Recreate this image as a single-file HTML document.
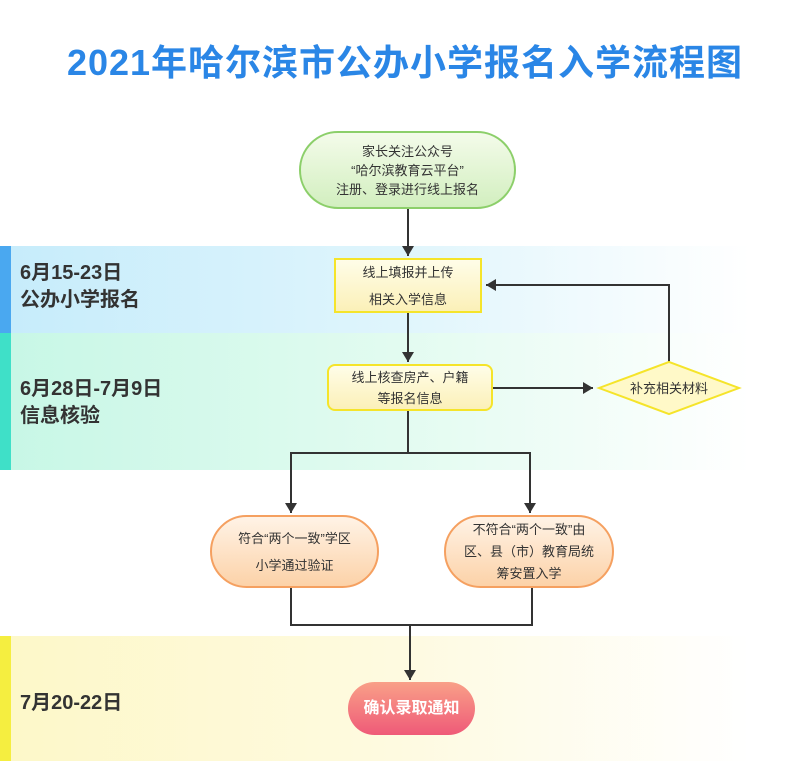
<!DOCTYPE html>
<html><head><meta charset="utf-8"><style>
body{margin:0;width:790px;height:761px;position:relative;background:#fff;font-family:"Liberation Sans","Noto Sans CJK SC",sans-serif;overflow:hidden}
.band{position:absolute;left:0;width:790px}
.bar{position:absolute;left:0;top:0;bottom:0;width:11px}
.lab{position:absolute;left:20px;font-weight:bold;font-size:20px;color:#333;line-height:27px}
.n{position:absolute;display:flex;align-items:center;justify-content:center;text-align:center;font-size:13px;color:#333;line-height:19px;box-sizing:border-box}
</style></head><body>
<div style="position:absolute;top:34px;left:0;width:810px;text-align:center;font-size:36px;font-weight:bold;color:#2a86e6;letter-spacing:1px">2021年哈尔滨市公办小学报名入学流程图</div>
<div class="band" style="top:246px;height:87px;background:linear-gradient(90deg,#c6ecfb,#dff5fc 50%,#fff 95%)"><div class="bar" style="background:#4aa8f0"></div></div>
<div class="band" style="top:333px;height:137px;background:linear-gradient(90deg,#c7f7e6,#e2fbf0 50%,#fff 95%)"><div class="bar" style="background:#3fe0c8"></div></div>
<div class="band" style="top:636px;height:125px;background:linear-gradient(90deg,#fdf8c8,#fefae0 50%,#fff 95%)"><div class="bar" style="background:#f5ee40"></div></div>
<div class="lab" style="top:260px">6月15-23日<br>公办小学报名</div>
<div class="lab" style="top:376px">6月28日-7月9日<br>信息核验</div>
<div class="lab" style="top:690px">7月20-22日</div>
<svg width="790" height="761" style="position:absolute;left:0;top:0">
<defs><marker id="a" markerWidth="10" markerHeight="12" refX="10" refY="6" orient="auto" markerUnits="userSpaceOnUse"><path d="M0,0L10,6L0,12z" fill="#333"/></marker></defs>
<g stroke="#333" stroke-width="2" fill="none">
<path d="M408 209V256" marker-end="url(#a)"/>
<path d="M408 313V362" marker-end="url(#a)"/>
<path d="M493 388H593" marker-end="url(#a)"/>
<path d="M669 362V285H486" marker-end="url(#a)"/>
<path d="M408 411V453H291V513" marker-end="url(#a)"/>
<path d="M408 453H530V513" marker-end="url(#a)"/>
<path d="M291 588V625H532V588"/>
<path d="M410 625V680" marker-end="url(#a)"/>
</g>
<polygon points="599,388 669,362 739,388 669,414" fill="#fff9c8" stroke="#f5e42a" stroke-width="2"/>
<text x="669" y="393" font-size="13" text-anchor="middle" fill="#333" font-family="Liberation Sans,Noto Sans CJK SC,sans-serif">补充相关材料</text>
</svg>
<div class="n" style="left:299px;top:131px;width:217px;height:78px;border:2px solid #8ccf6a;border-radius:40px;background:linear-gradient(#f4fbea,#d2efbf)">家长关注公众号<br>“哈尔滨教育云平台”<br>注册、登录进行线上报名</div>
<div class="n" style="left:334px;top:258px;width:148px;height:55px;border:2px solid #f5e42a;background:linear-gradient(#fffde8,#fbf0b8);line-height:27px">线上填报并上传<br>相关入学信息</div>
<div class="n" style="left:327px;top:364px;width:166px;height:47px;border:2px solid #f5e42a;border-radius:8px;background:linear-gradient(#fffde8,#fbf0b8);line-height:21px">线上核查房产、户籍<br>等报名信息</div>
<div class="n" style="left:210px;top:515px;width:169px;height:73px;border:2px solid #f5a060;border-radius:37px;background:linear-gradient(#fff3e6,#fcd2a8);line-height:27px">符合“两个一致”学区<br>小学通过验证</div>
<div class="n" style="left:444px;top:515px;width:170px;height:73px;border:2px solid #f5a060;border-radius:37px;background:linear-gradient(#fff3e6,#fcd2a8);line-height:22px">不符合“两个一致”由<br>区、县（市）教育局统<br>筹安置入学</div>
<div class="n" style="left:348px;top:682px;width:127px;height:53px;border-radius:27px;background:linear-gradient(#f9a088,#ef5a78);color:#fff;font-size:16px;font-weight:bold">确认录取通知</div>
</body></html>
